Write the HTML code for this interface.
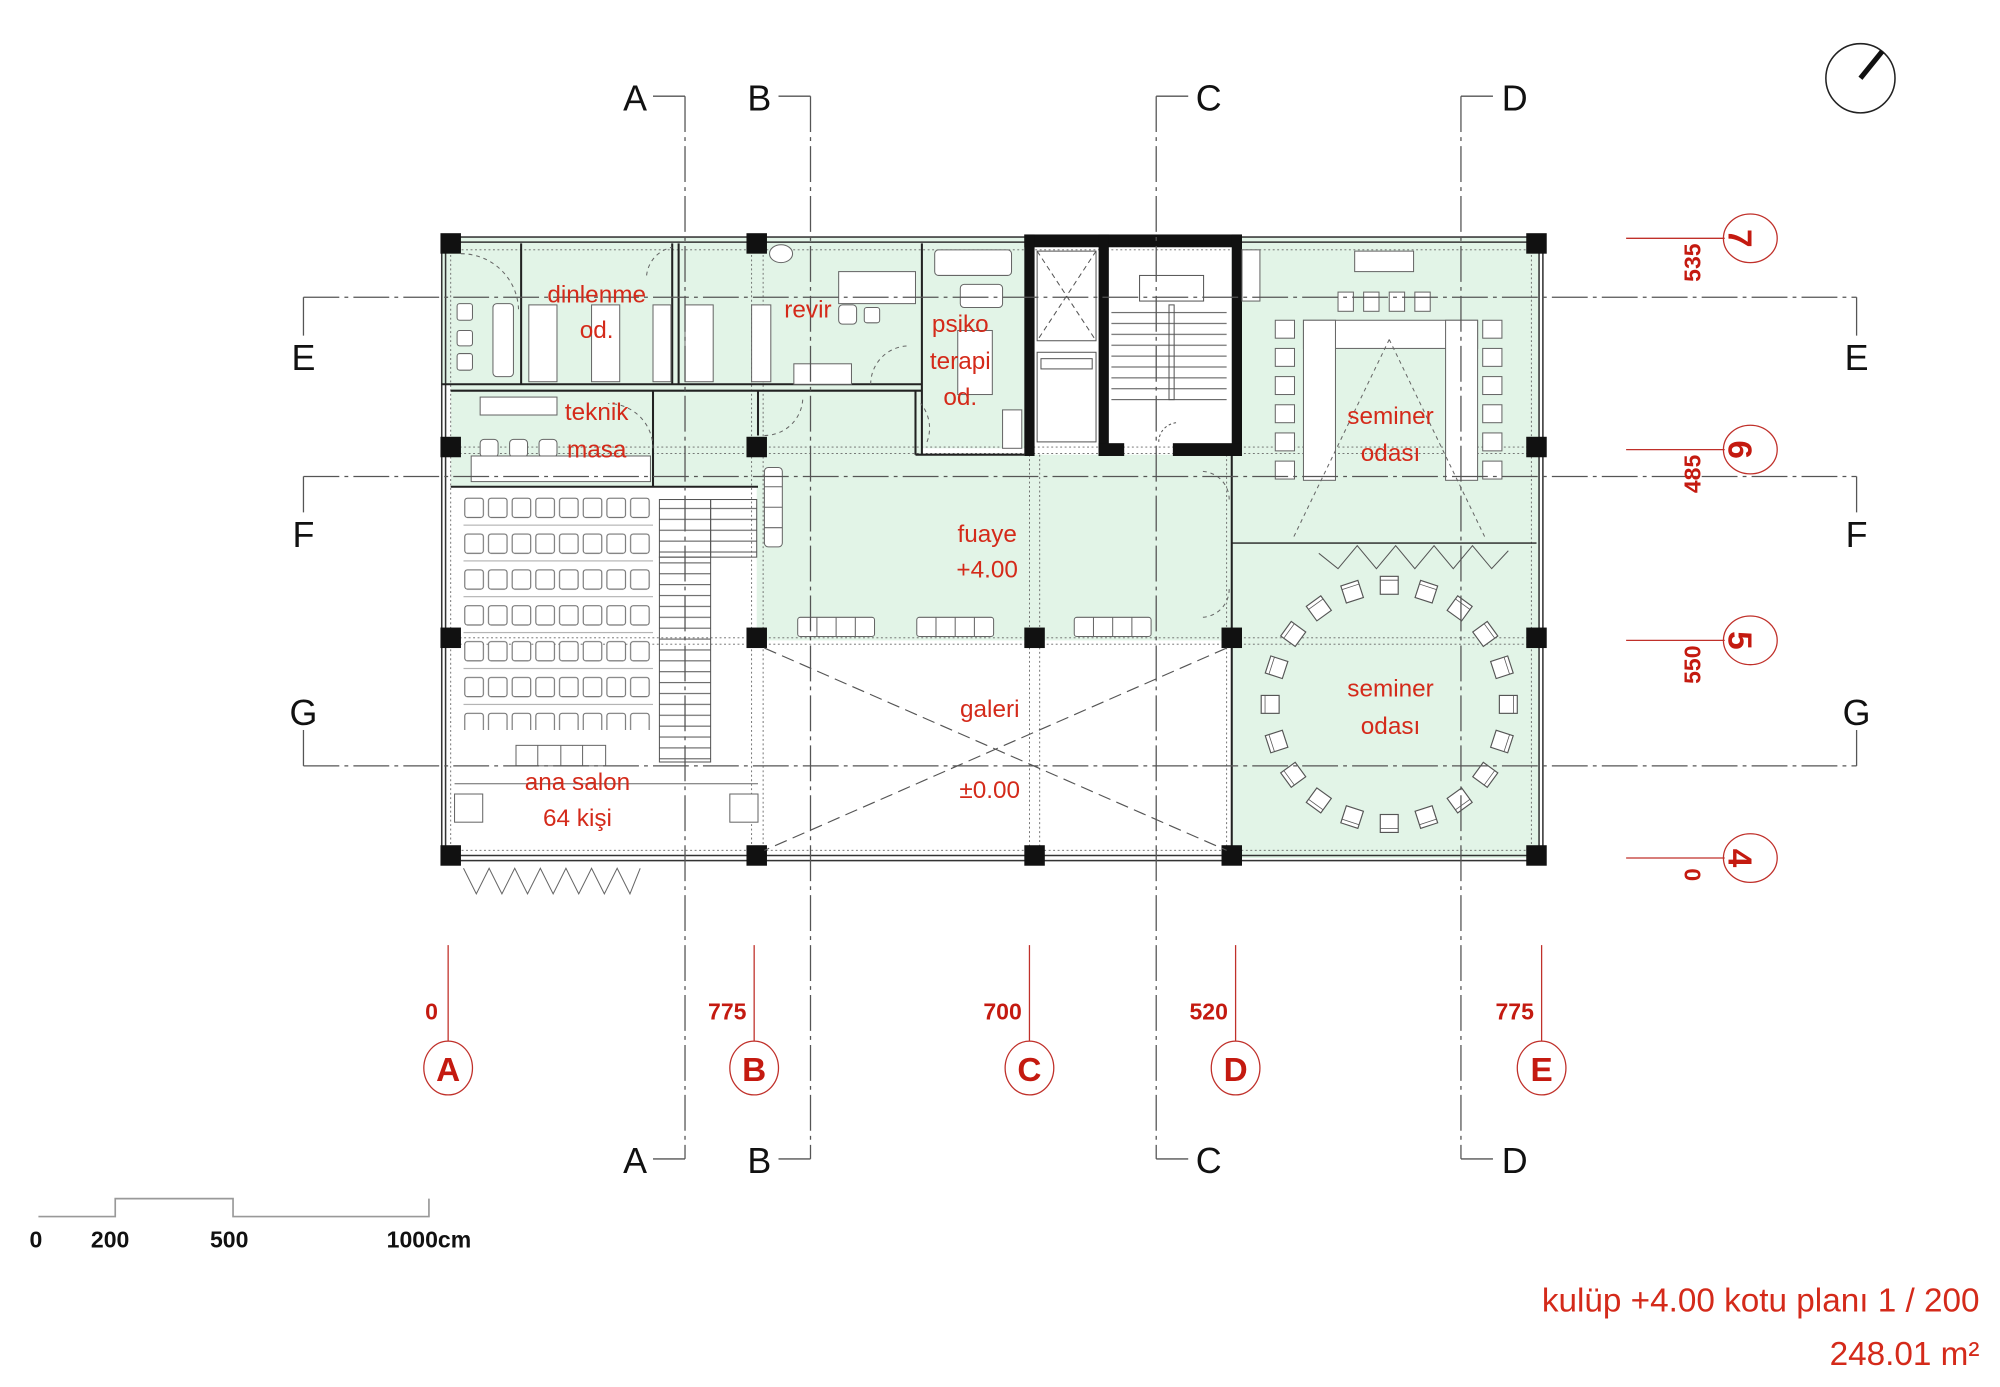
<!DOCTYPE html>
<html><head><meta charset="utf-8"><style>
html,body{margin:0;padding:0;background:#fff;}
svg{display:block;}
text{font-family:"Liberation Sans","DejaVu Sans",sans-serif;}
.r{fill:#d42a1a;font-weight:300;}
.b{fill:#111;}
.dim{fill:#c41a10;font-family:"Liberation Sans Narrow","Liberation Sans",sans-serif;font-weight:bold;}
</style></head><body>
<svg width="2000" height="1387" viewBox="0 0 1562 1083" xmlns="http://www.w3.org/2000/svg">
<defs>
<pattern id="seats" x="362" y="388" width="18.5" height="28" patternUnits="userSpaceOnUse">
<rect x="1" y="1" width="14.5" height="15" rx="2" fill="#fff" stroke="#666" stroke-width="0.8"/>
<line x1="0" y1="22" x2="18.5" y2="22" stroke="#888" stroke-width="0.6"/>
</pattern>
<pattern id="stair" x="0" y="388" width="10" height="8.5" patternUnits="userSpaceOnUse">
<line x1="0" y1="0.5" x2="10" y2="0.5" stroke="#555" stroke-width="0.8"/>
</pattern>
<g id="ch"><rect x="-7" y="-7" width="14" height="14" fill="#fff" stroke="#555" stroke-width="0.9"/><line x1="-7" y1="-4" x2="7" y2="-4" stroke="#555" stroke-width="0.6"/></g>
<g id="sq"><rect x="-6.5" y="-7" width="13" height="14" rx="2" fill="#fff" stroke="#666" stroke-width="0.8"/></g>
</defs>

<!-- green fills -->
<g fill="#e2f4e7">
<rect x="345" y="185" width="455" height="115"/>
<rect x="352" y="300" width="240" height="80"/>
<rect x="591" y="300" width="130" height="60"/>
<rect x="720" y="190" width="80" height="160"/>
<rect x="591" y="355" width="371" height="145"/>
<rect x="962" y="185" width="240" height="485"/>
</g>

<!-- dotted grid lines (structural) -->
<g stroke="#666" stroke-width="0.7" stroke-dasharray="1.5,2" fill="none">
<line x1="345" y1="349" x2="1205" y2="349"/>
<line x1="345" y1="354" x2="1205" y2="354"/>
<line x1="345" y1="498" x2="1205" y2="498"/>
<line x1="345" y1="503" x2="1205" y2="503"/>
<line x1="352" y1="185" x2="352" y2="672"/>
<line x1="587" y1="185" x2="587" y2="672"/>
<line x1="596" y1="185" x2="596" y2="672"/>
<line x1="804" y1="355" x2="804" y2="672"/>
<line x1="812" y1="355" x2="812" y2="672"/>
<line x1="958" y1="355" x2="958" y2="672"/>
<line x1="1196" y1="185" x2="1196" y2="672"/>
<line x1="350" y1="195" x2="1200" y2="195"/>
<line x1="350" y1="664" x2="1200" y2="664"/>
</g>

<!-- outer walls -->
<g stroke="#333" stroke-width="1.2" fill="none">
<rect x="345" y="185" width="860" height="487"/>
<line x1="345" y1="189" x2="1205" y2="189"/>
<line x1="345" y1="668" x2="1205" y2="668"/>
<line x1="348" y1="185" x2="348" y2="672"/>
<line x1="1202" y1="185" x2="1202" y2="672"/>
</g>

<!-- interior walls -->
<g stroke="#222" stroke-width="1.6" fill="none">
<line x1="345" y1="300" x2="720" y2="300"/>
<line x1="352" y1="305" x2="720" y2="305"/>
<line x1="407" y1="190" x2="407" y2="300"/>
<line x1="525" y1="190" x2="525" y2="300"/>
<line x1="530" y1="190" x2="530" y2="300"/>
<line x1="720" y1="190" x2="720" y2="355"/>
<line x1="715" y1="305" x2="715" y2="355"/>
<line x1="715" y1="355" x2="800" y2="355"/>
<line x1="510" y1="305" x2="510" y2="380"/>
<line x1="592" y1="305" x2="592" y2="340"/>
<line x1="352" y1="380" x2="592" y2="380"/>
<line x1="962" y1="355" x2="962" y2="670"/>
<line x1="962" y1="424" x2="1200" y2="424" stroke-width="1"/>
</g>

<!-- core -->
<g fill="#111">
<rect x="800" y="183" width="170" height="10"/>
<rect x="800" y="183" width="8" height="173"/>
<rect x="858" y="183" width="8" height="173"/>
<rect x="962" y="183" width="8" height="173"/>
<rect x="858" y="346" width="20" height="10"/>
<rect x="916" y="346" width="54" height="10"/>
</g>
<g stroke="#555" stroke-width="0.8" fill="none">
<rect x="810" y="196" width="46" height="70"/>
<line x1="810" y1="196" x2="856" y2="266" stroke-dasharray="4,3"/>
<line x1="856" y1="196" x2="810" y2="266" stroke-dasharray="4,3"/>
<rect x="810" y="275" width="46" height="70"/>
<rect x="813" y="280" width="40" height="8"/>
<rect x="890" y="215" width="50" height="20"/>
<rect x="913" y="238" width="4" height="74"/>
<path d="M905 345 a15 15 0 0 1 15 -15" stroke-dasharray="2,2"/>
</g>
<rect x="868" y="238" width="90" height="80" fill="url(#stair)"/>

<!-- columns -->
<g fill="#111">
<rect x="344" y="182" width="16" height="16"/><rect x="583" y="182" width="16" height="16"/><rect x="1192" y="182" width="16" height="16"/>
<rect x="344" y="341" width="16" height="16"/><rect x="583" y="341" width="16" height="16"/><rect x="1192" y="341" width="16" height="16"/>
<rect x="344" y="490" width="16" height="16"/><rect x="583" y="490" width="16" height="16"/><rect x="800" y="490" width="16" height="16"/><rect x="954" y="490" width="16" height="16"/><rect x="1192" y="490" width="16" height="16"/>
<rect x="344" y="660" width="16" height="16"/><rect x="583" y="660" width="16" height="16"/><rect x="800" y="660" width="16" height="16"/><rect x="954" y="660" width="16" height="16"/><rect x="1192" y="660" width="16" height="16"/>
</g>

<!-- furniture top rooms -->
<g fill="#fff" stroke="#666" stroke-width="0.8">
<rect x="357" y="237" width="12" height="13" rx="2"/><rect x="357" y="258" width="12" height="12" rx="2"/><rect x="357" y="276" width="12" height="13" rx="2"/>
<rect x="385" y="237" width="16" height="57" rx="3"/>
<rect x="413" y="238" width="22" height="60"/><rect x="462" y="238" width="22" height="60"/>
<rect x="510" y="238" width="14" height="60"/>
<rect x="535" y="238" width="22" height="60"/><rect x="587" y="238" width="15" height="60"/>
<rect x="655" y="212" width="60" height="25"/>
<rect x="655" y="238" width="14" height="15" rx="3"/><rect x="675" y="240" width="12" height="12" rx="2"/>
<rect x="620" y="284" width="45" height="16"/>
<rect x="730" y="195" width="60" height="20" rx="3"/>
<rect x="750" y="222" width="33" height="18" rx="3"/>
<rect x="748" y="258" width="27" height="50"/>
<rect x="783" y="320" width="15" height="30"/>
<rect x="375" y="310" width="60" height="14"/>
<rect x="375" y="343" width="14" height="14" rx="3"/><rect x="398" y="343" width="14" height="14" rx="3"/><rect x="421" y="343" width="14" height="14" rx="3"/>
<rect x="368" y="356" width="140" height="20"/>
<ellipse cx="610" cy="198" rx="9" ry="7"/>
<rect x="1058" y="196" width="46" height="16"/>
<rect x="1045" y="228" width="12" height="15"/><rect x="1065" y="228" width="12" height="15"/><rect x="1085" y="228" width="12" height="15"/><rect x="1105" y="228" width="12" height="15"/>
<rect x="1018" y="250" width="136" height="22"/>
<rect x="1018" y="250" width="25" height="125"/>
<rect x="1129" y="250" width="25" height="125"/>
<rect x="970" y="195" width="14" height="40"/>
</g>
<g stroke="#666" stroke-width="0.8" fill="#fff">
<rect x="996" y="250" width="15" height="14"/><rect x="996" y="272" width="15" height="14"/><rect x="996" y="294" width="15" height="14"/><rect x="996" y="316" width="15" height="14"/><rect x="996" y="338" width="15" height="14"/><rect x="996" y="360" width="15" height="14"/>
<rect x="1158" y="250" width="15" height="14"/><rect x="1158" y="272" width="15" height="14"/><rect x="1158" y="294" width="15" height="14"/><rect x="1158" y="316" width="15" height="14"/><rect x="1158" y="338" width="15" height="14"/><rect x="1158" y="360" width="15" height="14"/>
</g>
<g stroke="#666" stroke-width="0.8" fill="none" stroke-dasharray="3,3">
<path d="M1085 265 L1010 420 M1085 265 L1160 420"/>
<path d="M360 198 a45 45 0 0 1 45 45"/>
<path d="M505 215 a25 25 0 0 1 20 -22"/>
<path d="M680 300 a30 30 0 0 1 30 -30"/>
<path d="M724 345 a30 30 0 0 0 -5 -30"/>
<path d="M510 350 a35 35 0 0 0 -35 -35"/>
<path d="M597 340 a30 30 0 0 0 30 -30"/>
<path d="M960 390 a22 22 0 0 0 -22 -22"/>
<path d="M960 460 a22 22 0 0 1 -22 22"/>
</g>
<path d="M1030 432 L1045 444 L1060 426 L1075 444 L1090 426 L1105 444 L1120 426 L1135 444 L1150 426 L1165 444 L1178 430" stroke="#555" stroke-width="0.8" fill="none"/>

<!-- fuaye seats -->
<g fill="#fff" stroke="#666" stroke-width="0.8">
<rect x="597" y="365" width="14" height="62" rx="3"/>
<line x1="597" y1="380" x2="611" y2="380"/><line x1="597" y1="396" x2="611" y2="396"/><line x1="597" y1="412" x2="611" y2="412"/>
<rect x="623" y="482" width="60" height="15" rx="2"/><rect x="716" y="482" width="60" height="15" rx="2"/><rect x="839" y="482" width="60" height="15" rx="2"/>
</g>
<g stroke="#666" stroke-width="0.8">
<line x1="638" y1="482" x2="638" y2="497"/><line x1="653" y1="482" x2="653" y2="497"/><line x1="668" y1="482" x2="668" y2="497"/>
<line x1="731" y1="482" x2="731" y2="497"/><line x1="746" y1="482" x2="746" y2="497"/><line x1="761" y1="482" x2="761" y2="497"/>
<line x1="854" y1="482" x2="854" y2="497"/><line x1="869" y1="482" x2="869" y2="497"/><line x1="884" y1="482" x2="884" y2="497"/>
</g>

<!-- ana salon -->
<rect x="362" y="388" width="148" height="182" fill="url(#seats)"/>
<g fill="#fff" stroke="#666" stroke-width="0.8">
<rect x="403" y="582" width="70" height="16"/>
<rect x="355" y="620" width="22" height="22"/><rect x="570" y="620" width="22" height="22"/>
</g>
<g stroke="#666" stroke-width="0.8"><line x1="420" y1="582" x2="420" y2="598"/><line x1="438" y1="582" x2="438" y2="598"/><line x1="455" y1="582" x2="455" y2="598"/>
<line x1="355" y1="612" x2="592" y2="612"/></g>
<rect x="515" y="390" width="40" height="45" fill="url(#stair)" stroke="#555" stroke-width="0.8"/>
<rect x="515" y="435" width="40" height="160" fill="url(#stair)" stroke="#555" stroke-width="0.8"/>
<rect x="555" y="390" width="36" height="45" fill="url(#stair)" stroke="#555" stroke-width="0.8"/>
<path d="M362 678 L372 698 L382 678 L392 698 L402 678 L412 698 L422 678 L432 698 L442 678 L452 698 L462 678 L472 698 L482 678 L492 698 L500 678" stroke="#666" stroke-width="0.8" fill="none"/>

<!-- galeri X -->
<g stroke="#555" stroke-width="0.9" stroke-dasharray="10,5" fill="none">
<line x1="597" y1="506" x2="958" y2="664"/><line x1="958" y1="506" x2="597" y2="664"/>
</g>

<!-- round seminer chairs -->
<g>
<use href="#ch" transform="translate(1178,550) rotate(90)"/>
<use href="#ch" transform="translate(1173,579) rotate(108)"/>
<use href="#ch" transform="translate(1160,605) rotate(126)"/>
<use href="#ch" transform="translate(1140,625) rotate(144)"/>
<use href="#ch" transform="translate(1114,638) rotate(162)"/>
<use href="#ch" transform="translate(1085,643) rotate(180)"/>
<use href="#ch" transform="translate(1056,638) rotate(198)"/>
<use href="#ch" transform="translate(1030,625) rotate(216)"/>
<use href="#ch" transform="translate(1010,605) rotate(234)"/>
<use href="#ch" transform="translate(997,579) rotate(252)"/>
<use href="#ch" transform="translate(992,550) rotate(270)"/>
<use href="#ch" transform="translate(997,521) rotate(288)"/>
<use href="#ch" transform="translate(1010,495) rotate(306)"/>
<use href="#ch" transform="translate(1030,475) rotate(324)"/>
<use href="#ch" transform="translate(1056,462) rotate(342)"/>
<use href="#ch" transform="translate(1085,457) rotate(0)"/>
<use href="#ch" transform="translate(1114,462) rotate(18)"/>
<use href="#ch" transform="translate(1140,475) rotate(36)"/>
<use href="#ch" transform="translate(1160,495) rotate(54)"/>
<use href="#ch" transform="translate(1173,521) rotate(72)"/>
</g>

<!-- section lines -->
<g stroke="#555" stroke-width="1" fill="none" stroke-dasharray="28,4,3,4">
<line x1="535" y1="75" x2="535" y2="905"/>
<line x1="633" y1="75" x2="633" y2="905"/>
<line x1="903" y1="75" x2="903" y2="905"/>
<line x1="1141" y1="75" x2="1141" y2="905"/>
<line x1="237" y1="232" x2="1450" y2="232"/>
<line x1="237" y1="372" x2="1450" y2="372"/>
<line x1="237" y1="598" x2="1450" y2="598"/>
</g>
<g stroke="#555" stroke-width="1" fill="none">
<path d="M510 75 H535 M510 905 H535 M608 75 H633 M608 905 H633 M903 75 H928 M903 905 H928 M1141 75 H1166 M1141 905 H1166"/>
<path d="M237 232 V262 M1450 232 V262 M237 372 V400 M1450 372 V400 M237 598 V570 M1450 598 V570"/>
</g>
<g class="b" font-size="28" text-anchor="middle">
<text x="496" y="86">A</text><text x="593" y="86">B</text><text x="944" y="86">C</text><text x="1183" y="86">D</text>
<text x="496" y="916">A</text><text x="593" y="916">B</text><text x="944" y="916">C</text><text x="1183" y="916">D</text>
<text x="237" y="289">E</text><text x="1450" y="289">E</text>
<text x="237" y="427">F</text><text x="1450" y="427">F</text>
<text x="237" y="566">G</text><text x="1450" y="566">G</text>
</g>

<!-- axis markers -->
<g stroke="#c0302a" stroke-width="1" fill="none">
<line x1="350" y1="738" x2="350" y2="813"/><ellipse cx="350" cy="834" rx="19" ry="21"/>
<line x1="589" y1="738" x2="589" y2="813"/><ellipse cx="589" cy="834" rx="19" ry="21"/>
<line x1="804" y1="738" x2="804" y2="813"/><ellipse cx="804" cy="834" rx="19" ry="21"/>
<line x1="965" y1="738" x2="965" y2="813"/><ellipse cx="965" cy="834" rx="19" ry="21"/>
<line x1="1204" y1="738" x2="1204" y2="813"/><ellipse cx="1204" cy="834" rx="19" ry="21"/>
<line x1="1270" y1="186" x2="1347" y2="186"/><ellipse cx="1367" cy="186" rx="21" ry="19"/>
<line x1="1270" y1="351" x2="1347" y2="351"/><ellipse cx="1367" cy="351" rx="21" ry="19"/>
<line x1="1270" y1="500" x2="1347" y2="500"/><ellipse cx="1367" cy="500" rx="21" ry="19"/>
<line x1="1270" y1="670" x2="1347" y2="670"/><ellipse cx="1367" cy="670" rx="21" ry="19"/>
</g>
<g class="dim" font-size="26" text-anchor="middle">
<text x="350" y="844">A</text><text x="589" y="844">B</text><text x="804" y="844">C</text><text x="965" y="844">D</text><text x="1204" y="844">E</text>
<text transform="translate(1358,186) rotate(90)" dominant-baseline="central">7</text>
<text transform="translate(1358,351) rotate(90)" dominant-baseline="central">6</text>
<text transform="translate(1358,500) rotate(90)" dominant-baseline="central">5</text>
<text transform="translate(1358,670) rotate(90)" dominant-baseline="central">4</text>
</g>
<g class="dim" font-size="18" text-anchor="end">
<text x="342" y="796">0</text><text x="583" y="796">775</text><text x="798" y="796">700</text><text x="959" y="796">520</text><text x="1198" y="796">775</text>
</g>
<g class="dim" font-size="18" text-anchor="middle">
<text transform="translate(1328,205) rotate(-90)">535</text>
<text transform="translate(1328,370) rotate(-90)">485</text>
<text transform="translate(1328,519) rotate(-90)">550</text>
<text transform="translate(1328,683) rotate(-90)">0</text>
</g>

<!-- room labels -->
<g class="r" font-size="19" text-anchor="middle">
<text x="466" y="236">dinlenme</text><text x="466" y="264">od.</text>
<text x="631" y="248">revir</text>
<text x="750" y="259">psiko</text><text x="750" y="288">terapi</text><text x="750" y="316">od.</text>
<text x="466" y="328">teknik</text><text x="466" y="357">masa</text>
<text x="1086" y="331">seminer</text><text x="1086" y="360">odası</text>
<text x="771" y="423">fuaye</text><text x="771" y="451">+4.00</text>
<text x="773" y="560">galeri</text><text x="773" y="623">±0.00</text>
<text x="1086" y="544">seminer</text><text x="1086" y="573">odası</text>
<text x="451" y="617">ana salon</text><text x="451" y="645">64 kişi</text>
</g>

<!-- north -->
<circle cx="1453" cy="61" r="27" stroke="#222" stroke-width="1.2" fill="none"/>
<line x1="1453" y1="61" x2="1470" y2="40" stroke="#111" stroke-width="4"/>

<!-- scale bar -->
<path d="M30 950 H90 V936 H182 V950 H335 V936" stroke="#999" stroke-width="1.3" fill="none"/>
<g class="b" font-size="18" font-weight="bold" font-family="'Liberation Sans Narrow','Liberation Sans',sans-serif" text-anchor="middle">
<text x="28" y="974">0</text><text x="86" y="974">200</text><text x="179" y="974">500</text><text x="335" y="974">1000cm</text>
</g>

<!-- title -->
<g class="r" font-size="26" text-anchor="end">
<text x="1546" y="1024">kulüp +4.00 kotu planı 1 / 200</text>
<text x="1546" y="1066">248.01 m²</text>
</g>
</svg>
</body></html>
